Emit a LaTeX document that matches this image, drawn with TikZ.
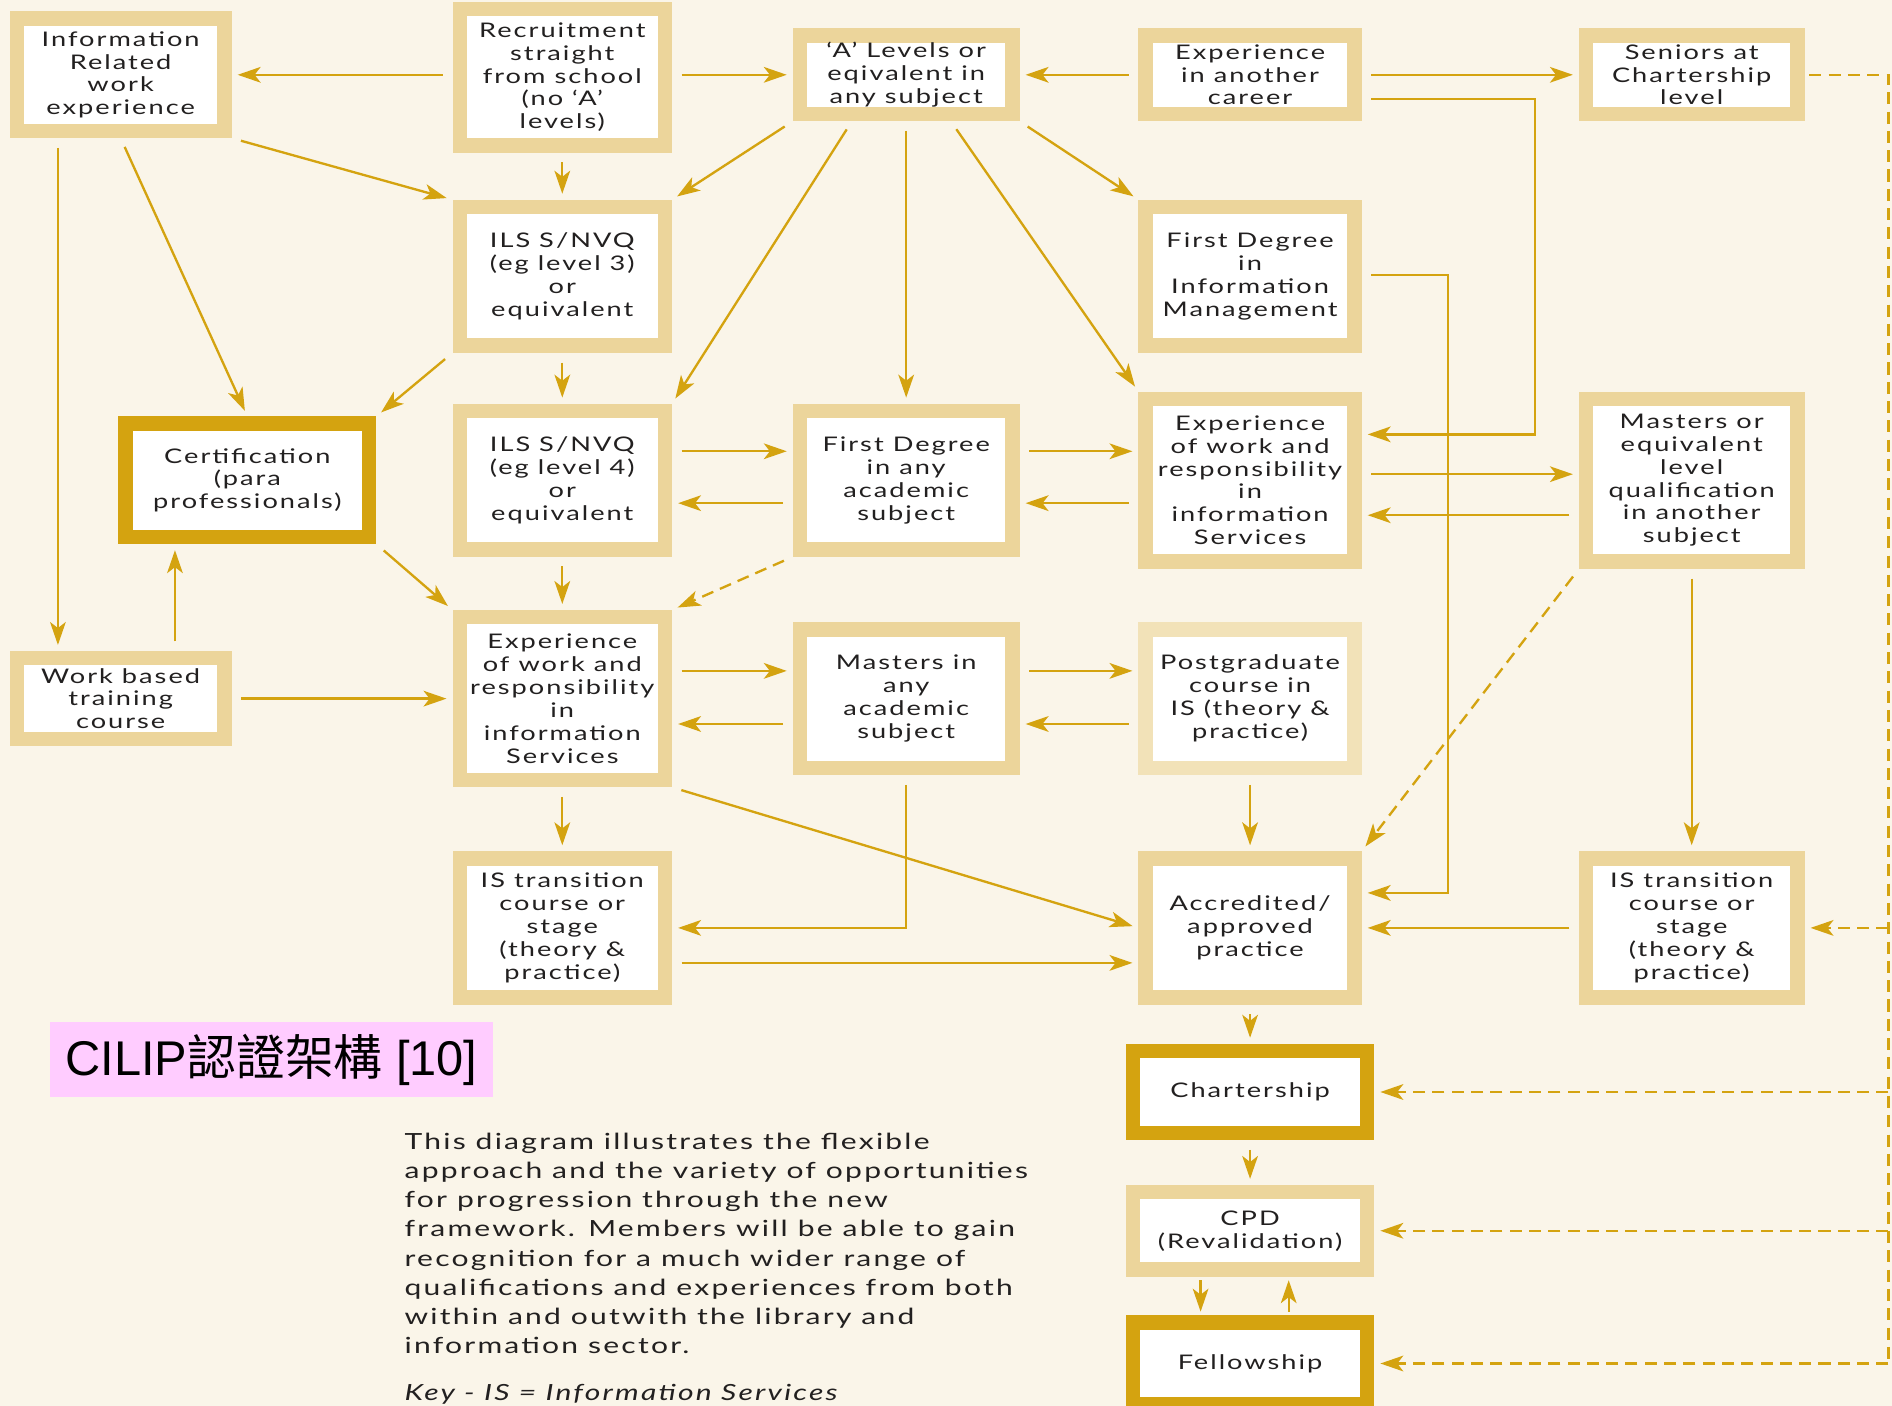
\documentclass[tikz,border=0pt]{standalone}
\usepackage{fontspec}
\usetikzlibrary{arrows.meta, calc}
\definecolor{cream}{RGB}{250,245,233}
\definecolor{tanline}{RGB}{236,213,155}
\definecolor{paletan}{RGB}{242,226,184}
\definecolor{gold}{RGB}{212,163,16}
\definecolor{inkgray}{RGB}{34,32,32}
\definecolor{labelpink}{RGB}{255,204,255}
\newfontfamily\boxfont[FakeStretch=1.35,LetterSpace=10]{Lato}
\newfontfamily\notefont[FakeStretch=1.35,LetterSpace=10]{Lato}
\newfontfamily\labelfont{Liberation Sans}
\newfontfamily\cjkfont{Noto Sans CJK TC}
\tikzset{
  lbox/.style={draw=tanline, line width=0.24cm, fill=white, align=center, inner sep=0pt,
    text=inkgray, font=\boxfont\fontsize{9.5}{10.8}\selectfont},
  dbox/.style={lbox, draw=gold},
  pbox/.style={lbox, draw=paletan},
  arr/.style={draw=gold, line width=1.1pt, -{Stealth[length=0.38cm,width=0.26cm,inset=0.1cm]},
    shorten <=0.16cm, shorten >=0.1cm},
  dasharr/.style={arr, dash pattern=on 0.2cm off 0.12cm},
  dashline/.style={draw=gold, line width=1.1pt, dash pattern=on 0.2cm off 0.12cm},
}

\begin{document}
\begin{tikzpicture}[x=0.02cm, y=-0.02cm]
  \fill[cream] (0,0) rectangle (1568,1165);
  \useasboundingbox (0,0) rectangle (1568,1165);

  % Entry points
  \node[lbox, minimum width=3.44cm, minimum height=1.86cm] (info) at (100,62) {Information\\Related\\work\\experience};
  \node[lbox, minimum width=3.40cm, minimum height=2.26cm] (recruit) at (466,64) {Recruitment\\straight\\from school\\(no ‘A’\\levels)};
  \node[lbox, minimum width=3.52cm, minimum height=1.30cm] (alev) at (751,62) {‘A’ Levels or\\eqivalent in\\any subject};
  \node[lbox, minimum width=3.46cm, minimum height=1.30cm] (exca) at (1036,62) {Experience\\in another\\career};
  \node[lbox, minimum width=3.50cm, minimum height=1.30cm] (seniors) at (1402,62) {Seniors at\\Chartership\\level};

  % Second row
  \node[lbox, minimum width=3.40cm, minimum height=2.30cm] (ils3) at (466,229) {ILS S/NVQ\\(eg level 3)\\or\\equivalent};
  \node[lbox, minimum width=3.46cm, minimum height=2.30cm] (fdim) at (1036,229) {First Degree\\in\\Information\\Management};

  % Third row
  \node[dbox, minimum width=4.04cm, minimum height=1.88cm] (cert) at (205,398) {Certification\\(para\\professionals)};
  \node[lbox, minimum width=3.40cm, minimum height=2.30cm] (ils4) at (466,398) {ILS S/NVQ\\(eg level 4)\\or\\equivalent};
  \node[lbox, minimum width=3.52cm, minimum height=2.30cm] (fda) at (751,398) {First Degree\\in any\\academic\\subject};
  \node[lbox, minimum width=3.46cm, minimum height=2.70cm] (expw) at (1036,398) {Experience\\of work and\\responsibility\\in\\information\\Services};
  \node[lbox, minimum width=3.50cm, minimum height=2.70cm] (mase) at (1402,398) {Masters or\\equivalent\\level\\qualification\\in another\\subject};

  % Fourth row
  \node[lbox, minimum width=3.44cm, minimum height=1.34cm] (work) at (100,579) {Work based\\training\\course};
  \node[lbox, minimum width=3.40cm, minimum height=2.70cm] (expm) at (466,579) {Experience\\of work and\\responsibility\\in\\information\\Services};
  \node[lbox, minimum width=3.52cm, minimum height=2.30cm] (mas) at (751,579) {Masters in\\any\\academic\\subject};
  \node[pbox, minimum width=3.46cm, minimum height=2.30cm] (post) at (1036,579) {Postgraduate\\course in\\IS (theory \&\\practice)};

  % Fifth row
  \node[lbox, minimum width=3.40cm, minimum height=2.30cm] (istl) at (466,769) {IS transition\\course or\\stage\\(theory \&\\practice)};
  \node[lbox, minimum width=3.46cm, minimum height=2.30cm] (accr) at (1036,769) {Accredited/\\approved\\practice};
  \node[lbox, minimum width=3.50cm, minimum height=2.30cm] (istr) at (1402,769) {IS transition\\course or\\stage\\(theory \&\\practice)};

  % Qualifications
  \node[dbox, minimum width=3.88cm, minimum height=1.36cm] (chart) at (1036,905) {Chartership};
  \node[lbox, minimum width=3.88cm, minimum height=1.28cm] (cpd) at (1036,1020) {CPD\\(Revalidation)};
  \node[dbox, minimum width=3.88cm, minimum height=1.36cm] (fell) at (1036,1130) {Fellowship};

  % Label and note
  \node[fill=labelpink, minimum width=7.36cm, minimum height=1.24cm, inner sep=0pt,
    font=\fontsize{23}{26}\selectfont] (title) at (225,878) {\labelfont CILIP\cjkfont 認證架構\labelfont\ [10]};
  \node[anchor=north west, align=left, inner sep=0pt, text=inkgray,
    font=\notefont\fontsize{10.5}{13.7}\selectfont] (note) at (335,939) {This diagram illustrates the flexible\\
    approach and the variety of opportunities\\
    for progression through the new\\
    framework. Members will be able to gain\\
    recognition for a much wider range of\\
    qualifications and experiences from both\\
    within and outwith the library and\\
    information sector.\\[0.3cm]
    \textit{Key - IS = Information Services}};

  % Top row links
  \draw[arr] (recruit.west |- info.east) -- (info.east);
  \draw[arr] (recruit.east |- alev.west) -- (alev.west);
  \draw[arr] (exca.west) -- (alev.east);
  \draw[arr] (exca.east) -- (seniors.west);
  \coordinate (ea) at (1272,82);
  \draw[arr] (exca.east |- ea) -- (ea) |- ($(expw.east)+(0,-38)$);
  \coordinate (eb) at (1200,228);
  \draw[arr] (fdim.east |- eb) -- (eb) |- ($(accr.east)+(0,-29)$);

  % From work experience
  \draw[arr] (info.south east) -- (ils3.north west);
  \draw[arr] (info.south) -- (cert.north);
  \coordinate (iw) at ($(info.south)+(-52,0)$);
  \draw[arr] (iw) -- (iw |- work.north);
  \coordinate (wc) at ($(work.north)+(45,0)$);
  \draw[arr] (wc) -- (wc |- cert.south);
  \draw[arr] (work.east) -- (expm.west);

  % From school and A levels
  \draw[arr] (recruit.south) -- (ils3.north);
  \draw[arr] (alev.south west) -- (ils3.north east);
  \draw[arr] ($(alev.south)+(-45,0)$) -- (ils4.north east);
  \draw[arr] (alev.south) -- (fda.north);
  \draw[arr] ($(alev.south)+(37,0)$) -- (expw.north west);
  \draw[arr] (alev.south east) -- (fdim.north west);

  % Middle block
  \draw[arr] (ils3.south west) -- (cert.north east);
  \draw[arr] (ils3.south) -- (ils4.north);
  \draw[arr] ($(ils4.east)+(0,-24)$) -- ($(fda.west)+(0,-24)$);
  \draw[arr] ($(fda.west)+(0,19)$) -- ($(ils4.east)+(0,19)$);
  \draw[arr] ($(fda.east)+(0,-24)$) -- ($(expw.west)+(0,-24)$);
  \draw[arr] ($(expw.west)+(0,19)$) -- ($(fda.east)+(0,19)$);
  \draw[arr] ($(expw.east)+(0,-5)$) -- ($(mase.west)+(0,-5)$);
  \draw[arr] ($(mase.west)+(0,29)$) -- ($(expw.east)+(0,29)$);
  \draw[arr] (cert.south east) -- (expm.north west);
  \draw[arr] (ils4.south) -- (expm.north);
  \draw[dasharr] (fda.south west) -- (expm.north east);

  % Lower block
  \draw[arr] ($(expm.east)+(0,-23)$) -- ($(mas.west)+(0,-23)$);
  \draw[arr] ($(mas.west)+(0,21)$) -- ($(expm.east)+(0,21)$);
  \draw[arr] ($(mas.east)+(0,-23)$) -- ($(post.west)+(0,-23)$);
  \draw[arr] ($(post.west)+(0,21)$) -- ($(mas.east)+(0,21)$);
  \draw[arr] (expm.south) -- (istl.north);
  \draw[arr] (expm.south east) -- (accr.west);
  \draw[arr] (mas.south) |- (istl.east);
  \draw[arr] ($(istl.east)+(0,29)$) -- ($(accr.west)+(0,29)$);
  \draw[arr] (post.south) -- (accr.north);
  \draw[dasharr] (mase.south west) -- (accr.north east);
  \draw[arr] (mase.south) -- (istr.north);
  \draw[arr] (istr.west) -- (accr.east);

  % Towards Chartership and Fellowship
  \draw[arr] (accr.south) -- (chart.north);
  \draw[arr] (chart.south) -- (cpd.north);
  \draw[arr, shorten <=0.06cm, shorten >=0.06cm] ($(cpd.south)+(-41,0)$) -- ($(fell.north)+(-41,0)$);
  \draw[arr, shorten <=0.06cm, shorten >=0.06cm] ($(fell.north)+(32,0)$) -- ($(cpd.south)+(32,0)$);

  % Seniors route
  \coordinate (trunk) at (1565,62);
  \draw[dashline, shorten <=0.08cm] (seniors.east) -- (trunk) -- (trunk |- fell.east);
  \draw[dasharr, shorten <=0pt] (trunk |- istr.east) -- (istr.east);
  \draw[dasharr, shorten <=0pt] (trunk |- chart.east) -- (chart.east);
  \draw[dasharr, shorten <=0pt] (trunk |- cpd.east) -- (cpd.east);
  \draw[dasharr, shorten <=0pt] (trunk |- fell.east) -- (fell.east);
\end{tikzpicture}
\end{document}
